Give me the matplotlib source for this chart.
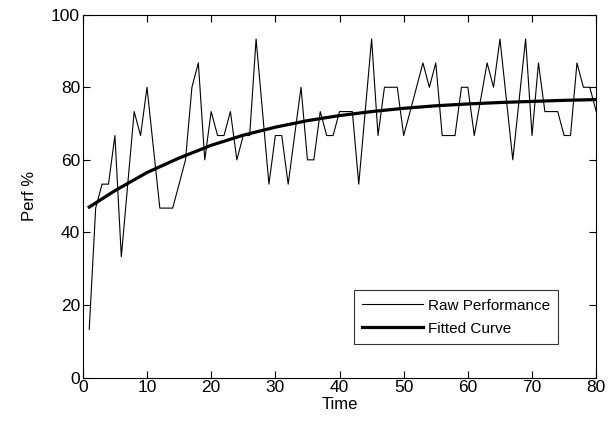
import matplotlib
matplotlib.use("Agg")
import matplotlib.pyplot as plt
import numpy as np

# raw performance per trial
time_pts = np.arange(1, 81)
raw_perf = [13.3, 46.7, 53.3, 53.3, 66.7, 33.3, 53.3, 73.3, 66.7, 80,
            63.3, 46.7, 46.7, 46.7, 53.3, 60, 80, 86.7, 60, 73.3,
            66.7, 66.7, 73.3, 60, 66.7, 66.7, 93.3, 73.3, 53.3, 66.7,
            66.7, 53.3, 66.7, 80, 60, 60, 73.3, 66.7, 66.7, 73.3,
            73.3, 73.3, 53.3, 73.3, 93.3, 66.7, 80, 80, 80, 66.7,
            73.3, 80, 86.7, 80, 86.7, 66.7, 66.7, 66.7, 80, 80,
            66.7, 76.7, 86.7, 80, 93.3, 76.7, 60, 76.7, 93.3, 66.7,
            86.7, 73.3, 73.3, 73.3, 66.7, 66.7, 86.7, 80, 80, 73.3]

# fitted curve
fit_time = [1, 5, 10, 15, 20, 25, 30, 35, 40, 45, 50, 55, 60, 65, 70, 75, 80]
fit_perf = [47, 51.5, 56.5, 60.5, 64, 66.8, 69, 70.8, 72.2, 73.3, 74.2,
            74.9, 75.4, 75.8, 76.1, 76.4, 76.6]

xticks = [0, 10, 20, 30, 40, 50, 60, 70, 80]
yticks = [0, 20, 40, 60, 80, 100]

plt.rcParams['font.family'] = ['Liberation Sans Narrow', 'Liberation Sans', 'DejaVu Sans']

fig = plt.figure(figsize=(6.09, 4.32), dpi=100)
ax = fig.add_axes([0.136, 0.126, 0.843, 0.840])

ax.plot(time_pts, raw_perf, color='black', linewidth=0.8, label='Raw Performance')
ax.plot(fit_time, fit_perf, color='black', linewidth=2.3, label='Fitted Curve')

ax.set_xlim(0, 80)
ax.set_ylim(0, 100)
ax.set_xticks(xticks)
ax.set_yticks(yticks)
ax.tick_params(direction='in', top=True, right=True, length=5, width=0.8,
               labelsize=12.5, pad=2)
for s in ax.spines.values():
    s.set_linewidth(0.8)

ax.set_xlabel('Time', fontsize=12, labelpad=1)
ax.set_ylabel('Perf %', fontsize=12, labelpad=10)

leg = ax.legend(loc='lower right', bbox_to_anchor=(0.926, 0.092), borderaxespad=0,
                fontsize=11, frameon=True, fancybox=False, handlelength=4.0,
                handletextpad=0.3, borderpad=0.55, labelspacing=0.6)
leg.get_frame().set_edgecolor('black')
leg.get_frame().set_linewidth(0.8)

fig.savefig('out.png', dpi=100)
